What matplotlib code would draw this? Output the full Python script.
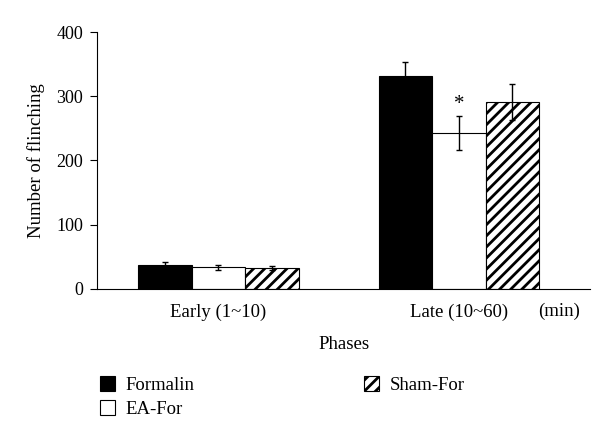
import matplotlib
matplotlib.use("Agg")
import matplotlib.pyplot as plt
import numpy as np

plt.rcParams['font.family'] = ['Liberation Serif', 'DejaVu Serif']
plt.rcParams['hatch.linewidth'] = 2.0

phases = ["Early (1~10)", "Late (10~60)"]
groups = ["Formalin", "EA-For", "Sham-For"]
formalin = [37, 331]
formalin_err = [5, 22]
ea_for = [34, 243]
ea_for_err = [4, 27]
sham_for = [33, 291]
sham_for_err = [3, 28]
yticks = [0, 100, 200, 300, 400]

fig = plt.figure(figsize=(6, 4.42), dpi=100)
ax = fig.add_axes([0.1617, 0.3462, 0.8217, 0.5814])

x = np.arange(len(phases))
w = 0.2225
ekw = dict(ecolor='black', capsize=2.5, elinewidth=1.0, capthick=1.0)
b1 = ax.bar(x - w, formalin, w, yerr=formalin_err, color='black',
            edgecolor='black', linewidth=0.8, error_kw=ekw, label=groups[0])
b2 = ax.bar(x, ea_for, w, yerr=ea_for_err, color='white',
            edgecolor='black', linewidth=0.8, error_kw=ekw, label=groups[1])
b3 = ax.bar(x + w, sham_for, w, yerr=sham_for_err, color='white',
            edgecolor='black', linewidth=0.8, hatch='///', error_kw=ekw,
            label=groups[2])

# significance mark
ax.text(x[1], ea_for[1] + ea_for_err[1] + 3, "*", ha='center', va='bottom',
        fontsize=15)

ax.set_xlim(-0.505, 1.545)
ax.set_ylim(0, 400)
ax.set_yticks(yticks)
ax.set_xticks(x)
ax.set_xticklabels(phases, fontsize=13.5)
ax.tick_params(axis='x', length=0, pad=10.5)
ax.tick_params(axis='y', labelsize=13, direction='out', length=5, pad=5)
ax.spines['top'].set_visible(False)
ax.spines['right'].set_visible(False)
ax.set_ylabel("Number of flinching", fontsize=13.5, labelpad=8)
ax.set_xlabel("Phases", fontsize=13.5, labelpad=11)
ax.text(0.98, -0.088, "(min)", transform=ax.transAxes, ha='right', va='center',
        fontsize=13.5)

fig.legend(handles=[b1, b2, b3], labels=groups, loc='upper left',
           bbox_to_anchor=(0.138, 0.187), ncol=2, frameon=False, fontsize=13.5,
           handlelength=0.8, handleheight=0.8, handletextpad=0.6,
           columnspacing=9.0, labelspacing=0.35)

fig.savefig("out.png", dpi=100)
